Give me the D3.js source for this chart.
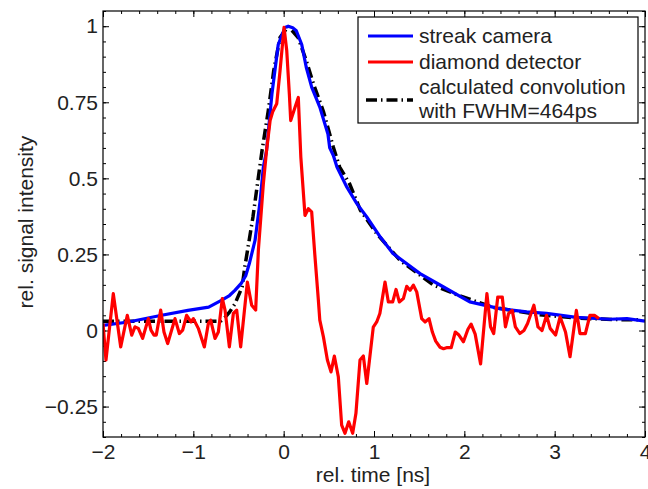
<!DOCTYPE html>
<html><head><meta charset="utf-8">
<script src="https://cdn.jsdelivr.net/npm/d3@7"></script>
<style>
body{margin:0;background:#fff;}
text{font-family:"Liberation Sans",Arial,Helvetica,sans-serif;fill:#222;}
</style></head>
<body><svg id="c" width="648" height="489"></svg>
<script>
const streakT=[-2,-1.72,-1.35,-1.06,-0.83,-0.69,-0.6,-0.54,-0.47,-0.42,-0.38,-0.317,-0.26,-0.225,-0.19,-0.13,-0.06,0.015,0.05,0.1,0.14,0.2,0.25,0.31,0.40,0.49,0.51,0.55,0.59,0.70,0.81,0.92,1.07,1.21,1.51,1.77,2.06,2.39,2.69,2.91,3.24,3.61,3.80,4.0];
const streakV=[0.017,0.028,0.05,0.066,0.077,0.099,0.115,0.132,0.155,0.18,0.22,0.296,0.427,0.537,0.59,0.777,0.94,0.996,1.0,0.995,0.985,0.94,0.865,0.80,0.734,0.646,0.60,0.575,0.537,0.471,0.417,0.373,0.307,0.253,0.187,0.143,0.094,0.072,0.061,0.056,0.043,0.037,0.039,0.031];

const convT=[-2,-0.7,-0.65,-0.6,-0.54,-0.46,-0.43,-0.34,-0.28,-0.24,-0.17,-0.11,-0.04,0.05,0.16,0.25,0.33,0.44,0.55,0.62,0.73,0.85,1.03,1.29,1.66,1.92,2.32,2.83,3.24,3.65,3.95];
const convV=[0.03,0.03,0.043,0.06,0.087,0.143,0.209,0.373,0.504,0.59,0.723,0.854,0.963,1.0,0.963,0.887,0.81,0.72,0.602,0.537,0.482,0.395,0.318,0.23,0.149,0.117,0.076,0.052,0.041,0.036,0.035];

const diamondT=[-2.0,-1.967,-1.886,-1.804,-1.731,-1.682,-1.646,-1.609,-1.561,-1.498,-1.469,-1.435,-1.41,-1.361,-1.325,-1.284,-1.203,-1.155,-1.118,-1.074,-1.026,-1.0,-0.945,-0.878,-0.834,-0.808,-0.76,-0.723,-0.679,-0.649,-0.601,-0.557,-0.52,-0.476,-0.402,-0.354,-0.31,-0.28,-0.225,-0.19,-0.15,-0.12,-0.077,-0.04,0.004,0.034,0.063,0.078,0.126,0.162,0.19,0.236,0.273,0.31,0.347,0.384,0.40,0.44,0.484,0.524,0.561,0.605,0.642,0.679,0.72,0.764,0.80,0.845,0.882,0.92,0.992,1.03,1.065,1.122,1.159,1.207,1.244,1.28,1.325,1.362,1.399,1.436,1.473,1.528,1.565,1.609,1.646,1.683,1.731,1.77,1.81,1.855,1.90,1.94,1.99,2.04,2.075,2.12,2.18,2.25,2.29,2.325,2.37,2.42,2.455,2.49,2.53,2.565,2.615,2.66,2.70,2.77,2.815,2.86,2.91,2.95,3.01,3.06,3.12,3.17,3.24,3.28,3.34,3.39,3.44,3.49];
const diamondV=[0.023,-0.097,0.121,-0.054,0.05,-0.015,0.012,0.007,-0.026,0.039,0.001,-0.015,-0.015,0.067,-0.005,-0.043,0.039,-0.01,0.001,0.05,0.028,0.039,0.007,-0.054,0.023,0.034,-0.026,-0.005,0.105,0.067,-0.054,0.056,0.067,-0.054,0.159,0.083,0.067,0.264,0.482,0.59,0.69,0.72,0.745,0.854,0.996,0.92,0.777,0.69,0.734,0.766,0.57,0.378,0.40,0.39,0.241,0.10,0.034,-0.021,-0.097,-0.136,-0.084,-0.152,-0.311,-0.338,-0.30,-0.338,-0.272,-0.097,-0.084,-0.174,0.011,0.028,0.056,0.159,0.094,0.094,0.135,0.094,0.105,0.145,0.132,0.149,0.127,0.039,0.028,0.039,-0.005,-0.035,-0.055,-0.06,-0.056,-0.056,-0.005,-0.015,-0.037,0.004,0.021,-0.012,-0.11,0.121,0.012,-0.01,0.11,0.11,0.012,0.056,0.066,0.012,-0.01,0.0,0.023,0.083,0.012,0.0,0.05,0.007,-0.015,0.045,-0.005,-0.086,0.066,-0.01,-0.01,0.05,0.05,0.039];

const xTicks=[-2,-1,0,1,2,3,4];
const yTicks=[-0.25,0,0.25,0.5,0.75,1];
const yTickLabels=["\u22120.25","0","0.25","0.5","0.75","1"];
const xTickLabels=["\u22122","\u22121","0","1","2","3","4"];
const legendLabels=["streak camera","diamond detector","calculated convolution","with FWHM=464ps"];

const L=103,R=645,T=11,B=437;
const svg=d3.select("#c");
const x=d3.scaleLinear().domain([-2,4]).range([L,R]);
const y=d3.scaleLinear().domain([-0.35,1.05]).range([B,T]);

svg.append("defs").append("clipPath").attr("id","clip").append("rect")
 .attr("x",L).attr("y",T).attr("width",R-L).attr("height",B-T);

const fs=21;
const xMinor=d3.range(-2,4.001,0.2);
const yMinor=d3.range(-0.35,1.0501,0.05);
svg.append("g").attr("transform",`translate(0,${B})`)
 .call(d3.axisBottom(x).tickValues(xMinor).tickSize(-3).tickFormat(""));
svg.append("g").attr("transform",`translate(0,${B})`)
 .call(d3.axisBottom(x).tickValues(xTicks).tickSize(-6).tickPadding(7).tickFormat((d,i)=>xTickLabels[i]));
svg.append("g").attr("transform",`translate(0,${T})`)
 .call(d3.axisTop(x).tickValues(xMinor).tickSize(-3).tickFormat(""));
svg.append("g").attr("transform",`translate(0,${T})`)
 .call(d3.axisTop(x).tickValues(xTicks).tickSize(-6).tickFormat(""));
svg.append("g").attr("transform",`translate(${L},0)`)
 .call(d3.axisLeft(y).tickValues(yMinor).tickSize(-3).tickFormat(""));
svg.append("g").attr("transform",`translate(${L},0)`)
 .call(d3.axisLeft(y).tickValues(yTicks).tickSize(-6).tickPadding(5).tickFormat((d,i)=>yTickLabels[i]));
svg.append("g").attr("transform",`translate(${R},0)`)
 .call(d3.axisRight(y).tickValues(yMinor).tickSize(-3).tickFormat(""));
svg.append("g").attr("transform",`translate(${R},0)`)
 .call(d3.axisRight(y).tickValues(yTicks).tickSize(-6).tickFormat(""));
svg.selectAll(".domain").remove();
svg.selectAll(".tick line").attr("stroke","#000").attr("stroke-width",1);
svg.selectAll(".tick text").style("font-size",fs+"px").attr("fill","#222")
 .style("font-family","'Liberation Sans',Arial,sans-serif");

const plot=svg.append("g").attr("clip-path","url(#clip)");
const line=d3.line().x(d=>x(d[0])).y(d=>y(d[1]));
plot.append("path").datum(convT.map((t,i)=>[t,convV[i]]))
 .attr("d",line).attr("fill","none").attr("stroke","#000").attr("stroke-width",3.5)
 .attr("stroke-dasharray","11,4,1.5,4");
plot.append("path").datum(streakT.map((t,i)=>[t,streakV[i]]))
 .attr("d",line).attr("fill","none").attr("stroke","#0000ff").attr("stroke-width",3.2).attr("stroke-linejoin","round");
plot.append("path").datum(diamondT.map((t,i)=>[t,diamondV[i]]))
 .attr("d",line).attr("fill","none").attr("stroke","#ff0000").attr("stroke-width",3.2).attr("stroke-linejoin","round");

svg.append("rect").attr("x",L).attr("y",T).attr("width",R-L).attr("height",B-T)
 .attr("fill","none").attr("stroke","#000").attr("stroke-width",1.2);

svg.append("text").attr("x",(L+R)/2-1).attr("y",482).attr("text-anchor","middle")
 .style("font-size",fs+"px").text("rel. time [ns]");
svg.append("text").attr("transform",`translate(33,${222}) rotate(-90)`).attr("text-anchor","middle")
 .style("font-size",fs+"px").text("rel. signal intensity");

const lg=svg.append("g");
lg.append("rect").attr("x",358).attr("y",17).attr("width",280).attr("height",106)
 .attr("fill","#fff").attr("stroke","#000").attr("stroke-width",1.2);
const items=[{c:"#0000ff",y:36,dash:null},{c:"#ff0000",y:62,dash:null},{c:"#000",y:100,dash:"11,4,1.5,4"}];
items.forEach(it=>{
 const l=lg.append("line").attr("x1",368).attr("x2",413).attr("y1",it.y).attr("y2",it.y)
  .attr("stroke",it.c).attr("stroke-width",3.2);
 if(it.dash) l.attr("stroke-dasharray",it.dash).attr("x1",366).attr("stroke-width",3.5);
});
const ty=[43,69,94,118];
legendLabels.forEach((s,i)=>{
 lg.append("text").attr("x",419).attr("y",ty[i]).style("font-size",fs+"px").text(s);
});
</script></body></html>
